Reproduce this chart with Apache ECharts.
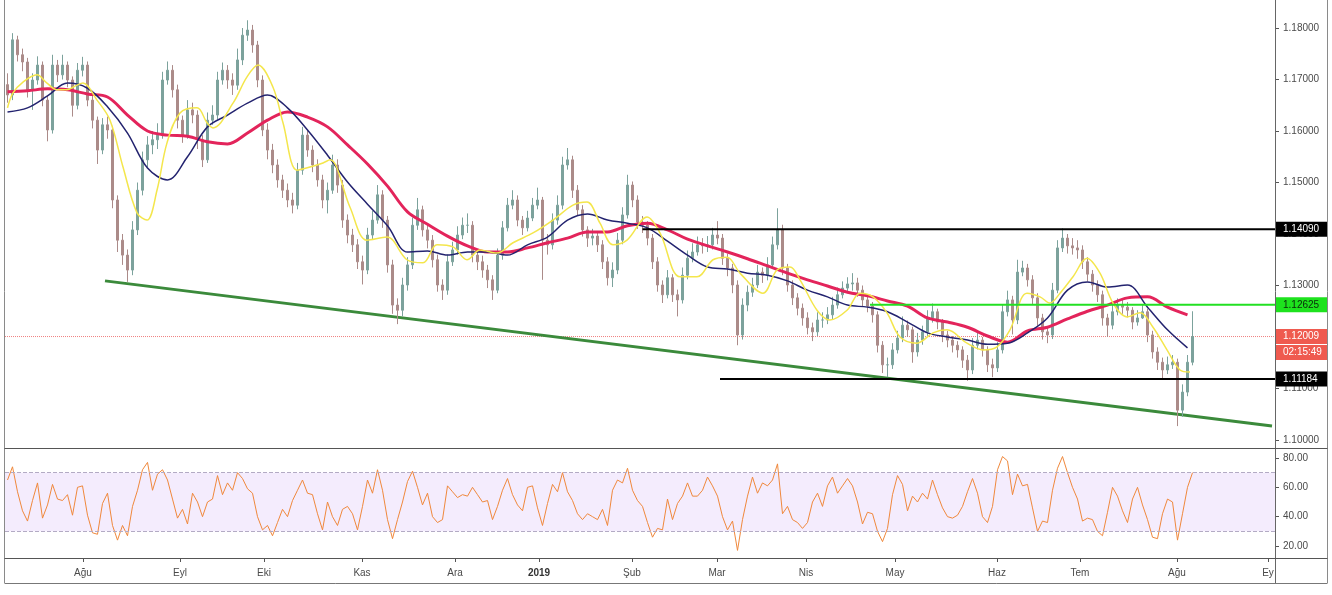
<!DOCTYPE html>
<html><head><meta charset="utf-8">
<script src="https://cdn.jsdelivr.net/npm/echarts@6/dist/echarts.min.js"></script>
<style>html,body{margin:0;padding:0;background:#fff;}#c{width:1332px;height:595px;}</style>
</head><body><div id="c"></div>
<script>
// ---- candle data (one slot per trading day) ----
const opens = [1.1690,1.1670,1.1777,1.1748,1.1734,1.1680,1.1699,1.1728,1.1660,1.1602,1.1728,1.1709,1.1728,1.1699,1.1650,1.1718,1.1728,1.1660,1.1621,1.1563,1.1612,1.1602,1.1466,1.1388,1.1359,1.1330,1.1408,1.1485,1.1544,1.1573,1.1583,1.1592,1.1699,1.1718,1.1680,1.1621,1.1592,1.1641,1.1631,1.1583,1.1544,1.1621,1.1631,1.1699,1.1718,1.1699,1.1689,1.1738,1.1786,1.1796,1.1767,1.1699,1.1602,1.1563,1.1534,1.1505,1.1485,1.1466,1.1456,1.1524,1.1592,1.1563,1.1534,1.1505,1.1466,1.1485,1.1534,1.1495,1.1427,1.1398,1.1379,1.1346,1.1330,1.1398,1.1427,1.1476,1.1427,1.1340,1.1262,1.1252,1.1301,1.1340,1.1417,1.1447,1.1408,1.1388,1.1350,1.1301,1.1291,1.1346,1.1369,1.1398,1.1417,1.1417,1.1359,1.1346,1.1330,1.1311,1.1291,1.1359,1.1412,1.1456,1.1466,1.1427,1.1412,1.1431,1.1456,1.1466,1.1388,1.1379,1.1427,1.1456,1.1534,1.1544,1.1485,1.1447,1.1408,1.1392,1.1396,1.1379,1.1346,1.1315,1.1330,1.1388,1.1437,1.1495,1.1466,1.1423,1.1417,1.1392,1.1346,1.1301,1.1282,1.1315,1.1282,1.1272,1.1320,1.1353,1.1365,1.1379,1.1377,1.1379,1.1398,1.1392,1.1353,1.1334,1.1301,1.1204,1.1262,1.1287,1.1301,1.1326,1.1320,1.1340,1.1379,1.1408,1.1334,1.1301,1.1276,1.1256,1.1237,1.1218,1.1210,1.1233,1.1233,1.1243,1.1262,1.1282,1.1295,1.1303,1.1305,1.1291,1.1272,1.1260,1.1243,1.1184,1.1146,1.1146,1.1175,1.1198,1.1223,1.1214,1.1171,1.1194,1.1210,1.1237,1.1249,1.1229,1.1204,1.1194,1.1184,1.1175,1.1155,1.1136,1.1184,1.1194,1.1175,1.1146,1.1140,1.1175,1.1249,1.1272,1.1233,1.1326,1.1334,1.1311,1.1276,1.1237,1.1210,1.1204,1.1291,1.1373,1.1392,1.1377,1.1373,1.1369,1.1346,1.1322,1.1301,1.1282,1.1237,1.1223,1.1249,1.1262,1.1258,1.1252,1.1229,1.1237,1.1249,1.1204,1.1171,1.1151,1.1136,1.1146,1.1151,1.1058,1.1093,1.1151];
const closes = [1.1670,1.1777,1.1748,1.1734,1.1680,1.1699,1.1728,1.1660,1.1602,1.1728,1.1709,1.1728,1.1699,1.1650,1.1718,1.1728,1.1660,1.1621,1.1563,1.1612,1.1602,1.1466,1.1388,1.1359,1.1330,1.1408,1.1485,1.1544,1.1573,1.1583,1.1592,1.1699,1.1718,1.1680,1.1621,1.1592,1.1641,1.1631,1.1583,1.1544,1.1621,1.1631,1.1699,1.1718,1.1699,1.1689,1.1738,1.1786,1.1796,1.1767,1.1699,1.1602,1.1563,1.1534,1.1505,1.1485,1.1466,1.1456,1.1524,1.1592,1.1563,1.1534,1.1505,1.1466,1.1485,1.1534,1.1495,1.1427,1.1398,1.1379,1.1346,1.1330,1.1398,1.1427,1.1476,1.1427,1.1340,1.1262,1.1252,1.1301,1.1340,1.1417,1.1447,1.1408,1.1388,1.1350,1.1301,1.1291,1.1346,1.1369,1.1398,1.1417,1.1417,1.1359,1.1346,1.1330,1.1311,1.1291,1.1359,1.1412,1.1456,1.1466,1.1427,1.1412,1.1431,1.1456,1.1466,1.1388,1.1379,1.1427,1.1456,1.1534,1.1544,1.1485,1.1447,1.1408,1.1392,1.1396,1.1379,1.1346,1.1315,1.1330,1.1388,1.1437,1.1495,1.1466,1.1423,1.1417,1.1392,1.1346,1.1301,1.1282,1.1315,1.1282,1.1272,1.1320,1.1353,1.1365,1.1379,1.1377,1.1379,1.1398,1.1392,1.1353,1.1334,1.1301,1.1204,1.1262,1.1287,1.1301,1.1326,1.1320,1.1340,1.1379,1.1408,1.1334,1.1301,1.1276,1.1256,1.1237,1.1218,1.1210,1.1233,1.1233,1.1243,1.1262,1.1282,1.1295,1.1303,1.1305,1.1291,1.1272,1.1260,1.1243,1.1184,1.1146,1.1146,1.1175,1.1198,1.1223,1.1214,1.1171,1.1194,1.1210,1.1237,1.1249,1.1229,1.1204,1.1194,1.1184,1.1175,1.1155,1.1136,1.1184,1.1194,1.1175,1.1146,1.1140,1.1175,1.1249,1.1272,1.1233,1.1326,1.1334,1.1311,1.1276,1.1237,1.1210,1.1204,1.1291,1.1373,1.1392,1.1377,1.1373,1.1369,1.1346,1.1322,1.1301,1.1282,1.1237,1.1223,1.1249,1.1262,1.1258,1.1252,1.1229,1.1237,1.1249,1.1204,1.1171,1.1151,1.1136,1.1146,1.1151,1.1058,1.1093,1.1151,1.1201];
const highs = [1.1712,1.1790,1.1785,1.1760,1.1742,1.1712,1.1745,1.1735,1.1668,1.1748,1.1738,1.1748,1.1735,1.1706,1.1732,1.1744,1.1735,1.1668,1.1628,1.1625,1.1628,1.1610,1.1475,1.1400,1.1370,1.1425,1.1500,1.1560,1.1590,1.1600,1.1615,1.1715,1.1735,1.1728,1.1690,1.1630,1.1660,1.1655,1.1640,1.1592,1.1636,1.1650,1.1715,1.1733,1.1728,1.1712,1.1760,1.1800,1.1815,1.1806,1.1775,1.1708,1.1615,1.1575,1.1545,1.1515,1.1498,1.1480,1.1538,1.1608,1.1600,1.1572,1.1545,1.1515,1.1500,1.1554,1.1545,1.1505,1.1438,1.1410,1.1390,1.1358,1.1412,1.1445,1.1495,1.1485,1.1435,1.1350,1.1275,1.1315,1.1355,1.1432,1.1470,1.1455,1.1418,1.1398,1.1360,1.1312,1.1360,1.1385,1.1415,1.1432,1.1440,1.1425,1.1370,1.1358,1.1340,1.1320,1.1372,1.1425,1.1470,1.1485,1.1475,1.1435,1.1445,1.1470,1.1490,1.1472,1.1400,1.1440,1.1475,1.1550,1.1567,1.1552,1.1495,1.1456,1.1415,1.1410,1.1405,1.1388,1.1355,1.1345,1.1402,1.1452,1.1515,1.1502,1.1475,1.1435,1.1425,1.1400,1.1355,1.1310,1.1330,1.1322,1.1292,1.1335,1.1368,1.1382,1.1395,1.1392,1.1396,1.1412,1.1425,1.1400,1.1362,1.1342,1.1310,1.1275,1.1300,1.1315,1.1340,1.1335,1.1355,1.1395,1.1450,1.1418,1.1342,1.1310,1.1285,1.1265,1.1248,1.1228,1.1248,1.1248,1.1258,1.1278,1.1296,1.1308,1.1316,1.1324,1.1315,1.1300,1.1282,1.1268,1.1250,1.1192,1.1160,1.1188,1.1212,1.1240,1.1232,1.1220,1.1208,1.1222,1.1252,1.1265,1.1255,1.1235,1.1212,1.1202,1.1192,1.1182,1.1165,1.1198,1.1210,1.1200,1.1182,1.1158,1.1190,1.1262,1.1290,1.1280,1.1350,1.1348,1.1342,1.1320,1.1285,1.1245,1.1220,1.1305,1.1388,1.1411,1.1400,1.1392,1.1388,1.1378,1.1355,1.1330,1.1310,1.1290,1.1245,1.1265,1.1275,1.1272,1.1268,1.1258,1.1252,1.1262,1.1255,1.1212,1.1180,1.1160,1.1162,1.1165,1.1158,1.1108,1.1165,1.1250];
const lows = [1.1655,1.1660,1.1735,1.1716,1.1665,1.1641,1.1690,1.1648,1.1580,1.1595,1.1695,1.1700,1.1685,1.1628,1.1642,1.1706,1.1648,1.1605,1.1536,1.1555,1.1585,1.1450,1.1365,1.1340,1.1307,1.1320,1.1398,1.1475,1.1530,1.1555,1.1565,1.1585,1.1690,1.1665,1.1605,1.1577,1.1585,1.1615,1.1565,1.1530,1.1538,1.1612,1.1622,1.1690,1.1682,1.1670,1.1680,1.1728,1.1775,1.1752,1.1685,1.1590,1.1545,1.1518,1.1490,1.1470,1.1452,1.1440,1.1448,1.1515,1.1550,1.1520,1.1492,1.1450,1.1440,1.1478,1.1480,1.1412,1.1382,1.1365,1.1332,1.1302,1.1322,1.1390,1.1420,1.1412,1.1325,1.1245,1.1225,1.1240,1.1290,1.1332,1.1408,1.1395,1.1372,1.1335,1.1288,1.1272,1.1282,1.1338,1.1360,1.1390,1.1402,1.1345,1.1330,1.1315,1.1295,1.1272,1.1285,1.1350,1.1405,1.1448,1.1415,1.1398,1.1405,1.1425,1.1448,1.1311,1.1360,1.1370,1.1418,1.1448,1.1525,1.1470,1.1435,1.1395,1.1375,1.1378,1.1365,1.1332,1.1300,1.1297,1.1322,1.1380,1.1430,1.1452,1.1410,1.1402,1.1378,1.1332,1.1288,1.1266,1.1275,1.1268,1.1240,1.1265,1.1312,1.1345,1.1358,1.1362,1.1365,1.1370,1.1380,1.1340,1.1318,1.1285,1.1184,1.1195,1.1250,1.1278,1.1295,1.1305,1.1310,1.1332,1.1370,1.1320,1.1288,1.1262,1.1242,1.1222,1.1205,1.1192,1.1202,1.1218,1.1225,1.1235,1.1255,1.1275,1.1285,1.1290,1.1278,1.1260,1.1248,1.1228,1.1170,1.1130,1.1122,1.1138,1.1168,1.1190,1.1200,1.1150,1.1162,1.1185,1.1202,1.1228,1.1215,1.1190,1.1180,1.1170,1.1160,1.1140,1.1115,1.1128,1.1176,1.1162,1.1132,1.1122,1.1132,1.1168,1.1240,1.1205,1.1225,1.1318,1.1298,1.1262,1.1222,1.1195,1.1188,1.1196,1.1285,1.1365,1.1362,1.1360,1.1352,1.1332,1.1308,1.1288,1.1268,1.1222,1.1200,1.1215,1.1242,1.1245,1.1238,1.1215,1.1222,1.1235,1.1190,1.1158,1.1136,1.1117,1.1128,1.1138,1.1027,1.1045,1.1085,1.1145];

// ---- moving averages (slot position, value) ----
const maIdx = [0,4,8,12,16,20,24,28,32,36,40,44,48,52,56,60,64,68,72,76,80,84,88,92,96,100,104,108,112,116,120,124,128,132,136,140,144,148,152,156,160,164,168,172,176,180,184,188,192,196,200,204,208,212,216,220,224,228,232,236];
const maSlow = [1.1676,1.1678,1.1682,1.1680,1.1672,1.1666,1.1631,1.1600,1.1592,1.1590,1.1579,1.1575,1.1596,1.1621,1.1637,1.1627,1.1608,1.1573,1.1536,1.1493,1.1443,1.1419,1.1396,1.1377,1.1365,1.1365,1.1373,1.1383,1.1392,1.1404,1.1404,1.1416,1.1421,1.1408,1.1390,1.1377,1.1365,1.1352,1.1338,1.1324,1.1311,1.1299,1.1287,1.1280,1.1270,1.1260,1.1237,1.1229,1.1219,1.1202,1.1190,1.1212,1.1219,1.1235,1.1250,1.1262,1.1276,1.1278,1.1258,1.1243];
const maMid = [1.1637,1.1645,1.1668,1.1693,1.1683,1.1647,1.1596,1.1528,1.1505,1.1550,1.1608,1.1631,1.1654,1.1670,1.1645,1.1602,1.1553,1.1501,1.1458,1.1416,1.1365,1.1367,1.1359,1.1365,1.1365,1.1359,1.1379,1.1394,1.1427,1.1439,1.1427,1.1421,1.1412,1.1386,1.1359,1.1336,1.1332,1.1324,1.1320,1.1309,1.1291,1.1278,1.1262,1.1258,1.1249,1.1229,1.1208,1.1200,1.1194,1.1186,1.1188,1.1208,1.1237,1.1291,1.1307,1.1297,1.1301,1.1258,1.1214,1.1179];
const fastIdx = [0,1.1,3.1,5.9,7.9,9.9,11.9,13.9,15.1,17.9,20.5,23.1,25.9,27.9,29.9,31.9,34.5,37.9,39.9,41.1,45.1,47.9,50.1,53.1,55.1,57.9,60.5,63.1,64.5,68.5,71.9,75.9,79.9,83.1,85.9,89.1,91.9,94.5,97.9,101.1,105.1,109.1,113.1,115.9,118.5,121.1,123.9,127.9,130.5,134.5,137.9,141.1,143.9,146.5,151.1,153.9,156.5,158.5,161.9,164.5,167.9,170.5,173.1,175.9,178.5,181.9,185.1,187.9,191.9,195.1,197.9,200.5,203.9,206.5,208.5,210.5,213.1,215.9,218.5,221.1,223.9,226.5,229.1,231.9,234.5,236.5];
const maFast = [1.1645,1.1674,1.1695,1.1709,1.1693,1.1680,1.1680,1.1689,1.1693,1.1660,1.1621,1.1530,1.1441,1.1427,1.1485,1.1577,1.1635,1.1645,1.1616,1.1606,1.1654,1.1705,1.1728,1.1685,1.1616,1.1524,1.1530,1.1538,1.1544,1.1452,1.1388,1.1394,1.1350,1.1344,1.1379,1.1375,1.1350,1.1369,1.1363,1.1383,1.1402,1.1427,1.1456,1.1462,1.1421,1.1379,1.1388,1.1433,1.1402,1.1317,1.1317,1.1350,1.1355,1.1324,1.1285,1.1330,1.1336,1.1311,1.1252,1.1233,1.1252,1.1285,1.1278,1.1247,1.1200,1.1188,1.1208,1.1214,1.1188,1.1175,1.1181,1.1214,1.1285,1.1278,1.1266,1.1285,1.1317,1.1353,1.1324,1.1266,1.1239,1.1247,1.1219,1.1175,1.1136,1.1132];

// ---- RSI ----
const rsi = [65,74,57,44,37,51,63,39,48,62,52,51,55,41,60,61,41,29,28,49,56,34,24,34,27,47,58,72,77,58,69,72,65,52,39,45,35,56,50,40,50,52,68,55,63,58,70,66,59,56,40,31,34,27,36,45,40,51,58,65,56,55,42,31,50,40,34,45,47,42,31,47,65,56,72,58,38,25,38,50,64,71,60,48,56,40,36,38,61,57,53,55,54,60,55,50,51,38,47,58,66,55,48,44,60,61,46,34,49,62,57,70,57,51,42,38,42,40,38,45,34,58,65,63,73,58,51,47,36,26,32,31,52,38,49,54,63,54,54,58,67,61,54,40,31,37,17,38,54,67,56,63,61,65,76,42,47,38,36,32,36,50,56,47,61,67,56,61,66,61,50,35,43,42,30,23,32,55,68,62,44,54,50,56,52,65,55,46,40,39,41,47,57,66,56,40,36,47,72,81,78,55,69,61,62,46,30,37,36,58,73,81,70,60,52,37,39,38,30,27,43,60,54,44,36,52,60,48,38,26,25,42,52,50,24,42,60,70];

// ---- levels, drawings, axes ----
const resistance = 1.14090, pivotLevel = 1.12625, lastPrice = 1.12009, support = 1.11184;
const countdown = '02:15:49';
const levelStarts = {resistance: 127, support: 142.5, pivot: 172.5};
const trendLine = [[19.5, 1.1309], [252.9, 1.1027]];
const priceTicks = [1.10, 1.11, 1.12, 1.13, 1.14, 1.15, 1.16, 1.17, 1.18];
const rsiTicks = [20, 40, 60, 80];
const rsiBand = [30, 70];
const monthPos = [15.1, 34.5, 51.3, 70.9, 89.5, 106.3, 124.9, 141.9, 159.7, 177.5, 197.9, 214.5, 233.9, 252.1];
const monthNames = ['Ağu', 'Eyl', 'Eki', 'Kas', 'Ara', '2019', 'Şub', 'Mar', 'Nis', 'May', 'Haz', 'Tem', 'Ağu', 'Ey'];

const N_SLOTS = 254;
const slots = Array.from({length: N_SLOTS}, (_, i) => String(i));
const X_MIN = -0.5, X_MAX = N_SLOTS - 0.5;
const FONT = '"Liberation Sans", Arial, sans-serif';
const UP = '#7ca29c', DOWN = '#ab8b89';

const candles = closes.map((c, i) => [opens[i], c, lows[i], highs[i]]);
const pair = (xs, ys) => xs.map((x, k) => [x, ys[k]]);
const level = (x0, y) => [[x0, y], [X_MAX, y]];

const chart = echarts.init(document.getElementById('c'), null, {renderer: 'canvas'});

function lineSeries(data, color, width, extra) {
  return Object.assign({
    type: 'line', xAxisIndex: 1, yAxisIndex: 0, data, symbol: 'none', silent: true,
    lineStyle: {color, width}, z: 4
  }, extra || {});
}

const option = {
  animation: false,
  backgroundColor: '#ffffff',
  grid: [
    {left: 5, right: 57, top: 0, height: 448},
    {left: 5, right: 57, top: 448, height: 110}
  ],
  xAxis: [
    {type: 'category', gridIndex: 0, data: slots, boundaryGap: true, show: false},
    {type: 'value', gridIndex: 0, min: X_MIN, max: X_MAX, show: false, axisLine: {onZero: false}},
    {type: 'value', gridIndex: 1, min: X_MIN, max: X_MAX, position: 'bottom',
      axisLine: {show: false, onZero: false}, splitLine: {show: false},
      axisTick: {show: true, length: 4, lineStyle: {color: '#555'}, customValues: monthPos},
      axisLabel: {show: true, customValues: monthPos, margin: 10, fontSize: 10, color: '#4a4a4a', fontFamily: FONT,
        formatter: v => {
          let k = 0, best = 1e9;
          monthPos.forEach((p, j) => { if (Math.abs(p - v) < best) { best = Math.abs(p - v); k = j; } });
          return monthNames[k] === '2019' ? '{b|2019}' : monthNames[k];
        },
        rich: {b: {fontWeight: 'bold', fontSize: 10, color: '#333', fontFamily: FONT}}
      }
    }
  ],
  yAxis: [
    {type: 'value', gridIndex: 0, position: 'right', min: 1.098447, max: 1.185437,
      axisLine: {show: false, onZero: false}, splitLine: {show: false},
      axisTick: {show: true, length: 4, lineStyle: {color: '#555'}, customValues: priceTicks},
      axisLabel: {show: true, customValues: priceTicks, margin: 8, fontSize: 10, color: '#4a4a4a', fontFamily: FONT,
        formatter: v => v.toFixed(5)}
    },
    {type: 'value', gridIndex: 1, position: 'right', min: 11.82, max: 86.82,
      axisLine: {show: false, onZero: false}, splitLine: {show: false},
      axisTick: {show: true, length: 4, lineStyle: {color: '#555'}, customValues: rsiTicks},
      axisLabel: {show: true, customValues: rsiTicks, margin: 8, fontSize: 10, color: '#4a4a4a', fontFamily: FONT,
        formatter: v => v.toFixed(2)}
    }
  ],
  series: [
    lineSeries(level(X_MIN, lastPrice), '#ef8080', 1, {lineStyle: {color: '#ef8080', width: 1, type: 'dotted'}, z: 1}),
    lineSeries(trendLine, '#3b8a3b', 3, {z: 1}),
    {type: 'candlestick', xAxisIndex: 0, yAxisIndex: 0, data: candles, barWidth: 3, silent: true, z: 2,
      itemStyle: {color: UP, color0: DOWN, borderColor: UP, borderColor0: DOWN, borderWidth: 1}},
    lineSeries(pair(maIdx, maSlow), '#e3245b', 3, {smooth: 0.35}),
    lineSeries(pair(maIdx, maMid), '#23236f', 1.5, {smooth: 0.35}),
    lineSeries(pair(fastIdx, maFast), '#f4e64c', 1.5, {smooth: 0.35}),
    lineSeries(level(levelStarts.resistance, resistance), '#000000', 2, {z: 5}),
    lineSeries(level(levelStarts.support, support), '#000000', 2, {z: 5}),
    lineSeries(level(levelStarts.pivot, pivotLevel), '#22e022', 2, {z: 5}),
    {type: 'line', xAxisIndex: 2, yAxisIndex: 1, data: rsi.map((v, i) => [i, v]), symbol: 'none', silent: true,
      lineStyle: {color: '#f0883c', width: 1}, z: 3,
      markArea: {silent: true, itemStyle: {color: 'rgba(180,130,240,0.15)'},
        data: [[{yAxis: rsiBand[0]}, {yAxis: rsiBand[1]}]]},
      markLine: {silent: true, symbol: 'none', label: {show: false},
        lineStyle: {color: '#b3abc4', type: 'dashed', width: 1},
        data: [{yAxis: rsiBand[0]}, {yAxis: rsiBand[1]}]}
    }
  ]
};
chart.setOption(option);

// ---- frame and price tags ----
const yOf = v => chart.convertToPixel({yAxisIndex: 0}, v);
const g = [];
const ln = (x1, y1, x2, y2, c, w) => g.push({type: 'line', shape: {x1, y1, x2, y2}, style: {stroke: c, lineWidth: w}, z: 50, silent: true});
ln(4.5, 0, 4.5, 583, '#8a8a8a', 1);
ln(1275.5, 0, 1275.5, 583, '#666', 1);
ln(1327.5, 0, 1327.5, 583, '#8a8a8a', 1);
ln(4.5, 448.5, 1327.5, 448.5, '#555', 1.2);
ln(4.5, 558.5, 1327.5, 558.5, '#555', 1.2);
ln(4.5, 583.5, 1327.5, 583.5, '#777', 1);

function tag(y, text, bg, fg) {
  g.push({type: 'rect', shape: {x: 1276, y: y - 7.5, width: 51, height: 15}, style: {fill: bg}, z: 60, silent: true});
  g.push({type: 'text', x: 1283, y: y, style: {text, fill: fg, font: '10px ' + FONT, verticalAlign: 'middle'}, z: 61, silent: true});
}
tag(yOf(resistance), resistance.toFixed(5), '#000000', '#ffffff');
tag(yOf(pivotLevel), pivotLevel.toFixed(5), '#1ee21e', '#0b2a0b');
tag(yOf(lastPrice), lastPrice.toFixed(5), '#ef5a4f', '#ffffff');
tag(yOf(lastPrice) + 16, countdown, '#ef5a4f', '#ffffff');
tag(yOf(support), support.toFixed(5), '#000000', '#ffffff');
chart.setOption({graphic: g});
</script>
</body></html>
